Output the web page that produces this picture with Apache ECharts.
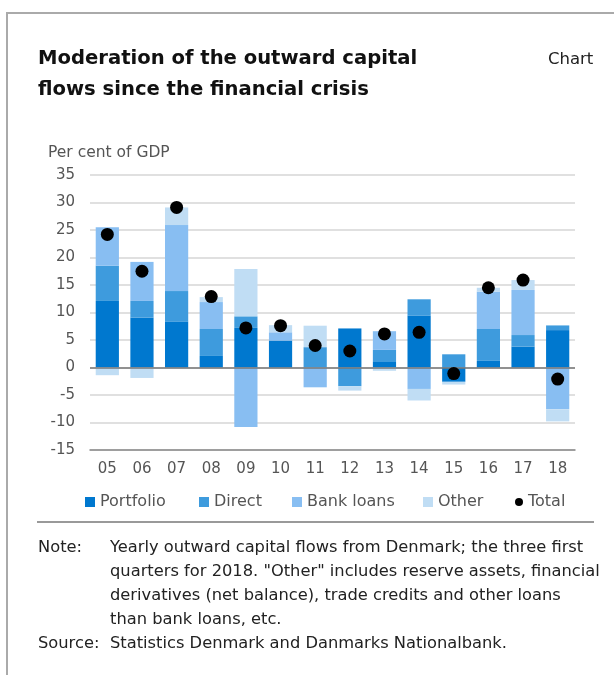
<!DOCTYPE html>
<html>
<head>
<meta charset="utf-8">
<script src="https://cdn.jsdelivr.net/npm/echarts@6/dist/echarts.min.js"></script>
<style>
html,body{margin:0;padding:0;background:#fff;}
#c{width:614px;height:675px;}
</style>
</head>
<body>
<div id="c"></div>
<script>
var categories = ['05','06','07','08','09','10','11','12','13','14','15','16','17','18'];
var portfolio = [12.1, 9.1, 8.3, 2.1, 7.2, 4.9, 0, 7.1, 1.0, 9.4, -2.6, 1.2, 3.8, 6.8];
var direct    = [6.4, 3.0, 5.6, 4.9, 2.1, 0, 3.7, -3.4, 2.2, 3.0, 2.4, 5.8, 2.1, 0.85];
var bankLoans = [7.0, 7.1, 12.0, 4.9, -10.8, 1.5, -3.6, 0, 3.4, -3.9, 0, 6.8, 8.2, -7.6];
var other     = [-1.4, -1.9, 3.2, 0.9, 8.6, 1.3, 3.9, -0.8, -0.6, -2.1, -0.5, 0.7, 1.8, -2.2];
var total     = [24.2, 17.5, 29.1, 12.9, 7.2, 7.6, 4.0, 3.0, 6.1, 6.4, -1.1, 14.5, 15.9, -2.1];

var FONT = '"DejaVu Sans", "Noto Sans", sans-serif';
var colors = {Portfolio:'#0078CF', Direct:'#3E9BDD', 'Bank loans':'#88BEF2', Other:'#C0DDF4', Total:'#000000'};

function legendItem(name, left, icon, w, h) {
  return {
    left: left, top: 493, padding: 0,
    itemWidth: w, itemHeight: h, itemGap: 0,
    icon: icon,
    selectedMode: false,
    data: [{name: name}],
    textStyle: {fontFamily: FONT, fontSize: 16, color: '#555', lineHeight: 18}
  };
}

function bar(name, data) {
  return {
    name: name, type: 'bar', stack: 'all', data: data,
    barWidth: '67%',
    itemStyle: {color: colors[name]},
    emphasis: {disabled: true}
  };
}

var chart = echarts.init(document.getElementById('c'), null, {renderer: 'canvas'});
var series = [
  bar('Portfolio', portfolio),
  bar('Direct', direct),
  bar('Bank loans', bankLoans),
  bar('Other', other),
  {
    name: 'Total', type: 'scatter', data: total,
    symbol: 'circle', symbolSize: 13,
    itemStyle: {color: '#000', opacity: 1}, z: 5,
    emphasis: {disabled: true}
  }
];
series[0].markLine = {
  silent: true, symbol: 'none', label: {show: false},
  lineStyle: {color: '#777', width: 1.5, type: 'solid'},
  data: [{yAxis: 0}], z: 4
};

chart.setOption({
  animation: false,
  textStyle: {fontFamily: FONT},
  grid: {left: 90, right: 39, top: 175, bottom: 225},
  legend: [
    legendItem('Portfolio', 85, 'rect', 10, 10),
    legendItem('Direct', 199, 'rect', 10, 10),
    legendItem('Bank loans', 292, 'rect', 10, 10),
    legendItem('Other', 423, 'rect', 10, 10),
    legendItem('Total', 515, 'circle', 8, 8)
  ],
  xAxis: {
    type: 'category', data: categories,
    axisLine: {onZero: false, lineStyle: {color: '#888', width: 1.5}},
    axisTick: {inside: true, length: 4, lineStyle: {color: '#888', width: 1.5}},
    axisLabel: {fontFamily: FONT, fontSize: 15, color: '#555', margin: 12}
  },
  yAxis: {
    type: 'value', min: -15, max: 35, interval: 5,
    axisLine: {show: false}, axisTick: {show: false},
    axisLabel: {fontFamily: FONT, fontSize: 15, color: '#555', margin: 15},
    splitLine: {lineStyle: {color: '#d6d6d6', width: 1.5}}
  },
  graphic: [
    {type: 'line', shape: {x1: 7, y1: 13, x2: 614, y2: 13}, style: {stroke: '#aaa', lineWidth: 2}},
    {type: 'line', shape: {x1: 7, y1: 12, x2: 7, y2: 675}, style: {stroke: '#aaa', lineWidth: 2}},
    {type: 'text', left: 38, top: 43, style: {text: 'Moderation of the outward capital\nflows since the financial crisis', font: 'bold 19.6px ' + FONT, fill: '#111', lineHeight: 31}},
    {type: 'text', left: 548, top: 51, style: {text: 'Chart', font: '16.5px ' + FONT, fill: '#222'}},
    {type: 'text', left: 48, top: 145, style: {text: 'Per cent of GDP', font: '15.5px ' + FONT, fill: '#555'}},
    {type: 'line', shape: {x1: 37, y1: 522, x2: 594, y2: 522}, style: {stroke: '#999', lineWidth: 2}},
    {type: 'text', left: 38, top: 536, style: {text: 'Note:', font: '16.3px ' + FONT, fill: '#222', lineHeight: 24}},
    {type: 'text', left: 110, top: 536, style: {text: 'Yearly outward capital flows from Denmark; the three first\nquarters for 2018. "Other" includes reserve assets, financial\nderivatives (net balance), trade credits and other loans\nthan bank loans, etc.', font: '16.3px ' + FONT, fill: '#222', lineHeight: 24}},
    {type: 'text', left: 38, top: 632, style: {text: 'Source:', font: '16.3px ' + FONT, fill: '#222', lineHeight: 24}},
    {type: 'text', left: 110, top: 632, style: {text: 'Statistics Denmark and Danmarks Nationalbank.', font: '16.3px ' + FONT, fill: '#222', lineHeight: 24}}
  ],
  series: series
});
</script>
</body>
</html>
